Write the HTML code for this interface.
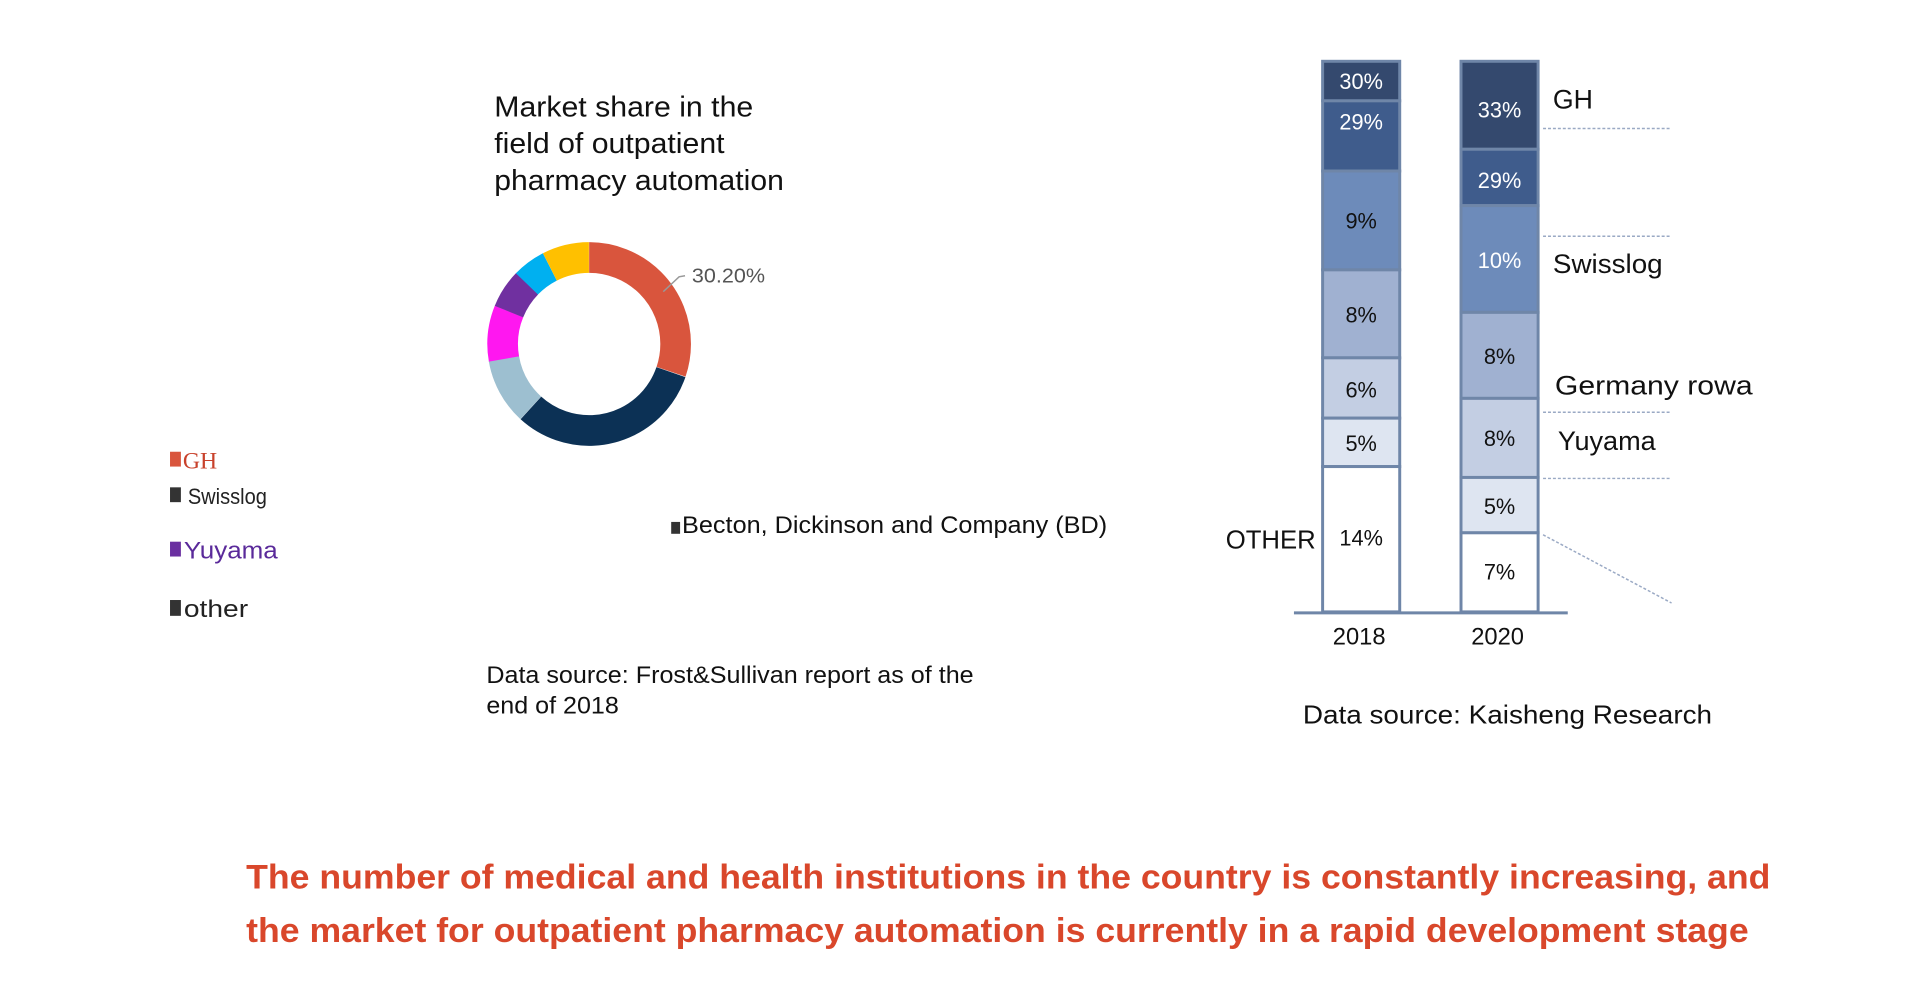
<!DOCTYPE html>
<html><head><meta charset="utf-8"><style>html,body{margin:0;padding:0;background:#fff}svg{display:block}</style></head>
<body>
<svg width="1920" height="983" viewBox="0 0 1920 983" xmlns="http://www.w3.org/2000/svg" font-family="Liberation Sans, sans-serif">
<rect width="1920" height="983" fill="#fff"/>
<g transform="scale(0.9885)">
<!-- Title -->
<g font-size="29" fill="#111">
<text x="500" y="118" textLength="262" lengthAdjust="spacingAndGlyphs">Market share in the</text>
<text x="500" y="155" textLength="233" lengthAdjust="spacingAndGlyphs">field of outpatient</text>
<text x="500" y="192" textLength="293" lengthAdjust="spacingAndGlyphs">pharmacy automation</text>
</g>
<!-- Donut -->
<g transform="translate(596,348)" fill="none" stroke-width="31">
<circle r="87.5" stroke="#d9553d" stroke-dasharray="166 1000" transform="rotate(-90)"/>
<circle r="87.5" stroke="#0c3155" stroke-dasharray="173 1000" transform="rotate(19)"/>
<circle r="87.5" stroke="#9dbfd0" stroke-dasharray="58 1000" transform="rotate(132.5)"/>
<circle r="87.5" stroke="#ff17f0" stroke-dasharray="49 1000" transform="rotate(170)"/>
<circle r="87.5" stroke="#7030a0" stroke-dasharray="34 1000" transform="rotate(202)"/>
<circle r="87.5" stroke="#00b0f0" stroke-dasharray="29 1000" transform="rotate(224)"/>
<circle r="87.5" stroke="#ffc000" stroke-dasharray="41 1000" transform="rotate(243)"/>
</g>
<polyline points="671,295 687,280 693,279" fill="none" stroke="#999" stroke-width="1.5"/>
<text x="700" y="286" font-size="21" fill="#555" textLength="74" lengthAdjust="spacingAndGlyphs">30.20%</text>
<!-- Legend -->
<rect x="172" y="457" width="11" height="15" fill="#d9553d"/>
<text x="185" y="474" font-size="24" font-family="Liberation Serif, serif" fill="#c8412b">GH</text>
<rect x="172" y="493" width="11" height="15" fill="#333"/>
<text x="190" y="510" font-size="22" fill="#222" textLength="80" lengthAdjust="spacingAndGlyphs">Swisslog</text>
<rect x="172" y="548" width="11" height="15" fill="#6a2fa0"/>
<text x="186" y="565" font-size="24" fill="#5a2a9a" textLength="95" lengthAdjust="spacingAndGlyphs">Yuyama</text>
<rect x="172" y="607" width="11" height="16" fill="#333"/>
<text x="186" y="624" font-size="24" fill="#222" textLength="65" lengthAdjust="spacingAndGlyphs">other</text>
<rect x="679" y="528" width="9" height="12" fill="#333"/>
<text x="690" y="539" font-size="24" fill="#111" textLength="430" lengthAdjust="spacingAndGlyphs">Becton, Dickinson and Company (BD)</text>
<g font-size="24" fill="#111">
<text x="492" y="691" textLength="493" lengthAdjust="spacingAndGlyphs">Data source: Frost&amp;Sullivan report as of the</text>
<text x="492" y="722" textLength="134" lengthAdjust="spacingAndGlyphs">end of 2018</text>
</g>
<!-- Bars -->
<g stroke="#6f86a8" stroke-width="3">
<rect x="1338" y="62" width="78" height="40" fill="#34496e"/>
<rect x="1338" y="102" width="78" height="71" fill="#3f5c8c"/>
<rect x="1338" y="173" width="78" height="100" fill="#6d8bba"/>
<rect x="1338" y="273" width="78" height="89" fill="#a0b1d1"/>
<rect x="1338" y="362" width="78" height="61" fill="#c3cee3"/>
<rect x="1338" y="423" width="78" height="49" fill="#dee5f1"/>
<rect x="1338" y="472" width="78" height="147" fill="#fff"/>
<rect x="1478" y="62" width="78" height="89" fill="#34496e"/>
<rect x="1478" y="151" width="78" height="57" fill="#3f5c8c"/>
<rect x="1478" y="208" width="78" height="108" fill="#6d8bba"/>
<rect x="1478" y="316" width="78" height="87" fill="#a0b1d1"/>
<rect x="1478" y="403" width="78" height="80" fill="#c3cee3"/>
<rect x="1478" y="483" width="78" height="56" fill="#dee5f1"/>
<rect x="1478" y="539" width="78" height="80" fill="#fff"/>
</g>
<line x1="1309" y1="620" x2="1586" y2="620" stroke="#6f86a8" stroke-width="3"/>
<g fill="none" stroke="#9aa9c4" stroke-width="1.5" stroke-dasharray="3 2">
<line x1="1561" y1="130" x2="1691" y2="130"/>
<line x1="1561" y1="239" x2="1691" y2="239"/>
<line x1="1561" y1="417" x2="1691" y2="417"/>
<line x1="1561" y1="484" x2="1691" y2="484"/>
<line x1="1561" y1="541" x2="1691" y2="610"/>
</g>
<g font-size="22" text-anchor="middle">
<text x="1377" y="90" fill="#fff">30%</text>
<text x="1377" y="131" fill="#fff">29%</text>
<text x="1377" y="231" fill="#111">9%</text>
<text x="1377" y="326" fill="#111">8%</text>
<text x="1377" y="402" fill="#111">6%</text>
<text x="1377" y="456" fill="#111">5%</text>
<text x="1377" y="552" fill="#111">14%</text>
<text x="1517" y="119" fill="#fff">33%</text>
<text x="1517" y="190" fill="#fff">29%</text>
<text x="1517" y="271" fill="#fff">10%</text>
<text x="1517" y="368" fill="#111">8%</text>
<text x="1517" y="451" fill="#111">8%</text>
<text x="1517" y="520" fill="#111">5%</text>
<text x="1517" y="586" fill="#111">7%</text>
</g>
<g font-size="27" fill="#111">
<text x="1571" y="110">GH</text>
<text x="1571" y="276" textLength="111" lengthAdjust="spacingAndGlyphs">Swisslog</text>
<text x="1573" y="399" textLength="200" lengthAdjust="spacingAndGlyphs">Germany rowa</text>
<text x="1576" y="455" textLength="99" lengthAdjust="spacingAndGlyphs">Yuyama</text>
<text x="1240" y="555" font-size="26">OTHER</text>
<text x="1375" y="652" text-anchor="middle" font-size="24">2018</text>
<text x="1515" y="652" text-anchor="middle" font-size="24">2020</text>
<text x="1318" y="732" font-size="26" textLength="414" lengthAdjust="spacingAndGlyphs">Data source: Kaisheng Research</text>
</g>
<!-- Bottom text -->
<g font-size="35" font-weight="bold" fill="#d9472b">
<text x="249" y="899" textLength="1542" lengthAdjust="spacingAndGlyphs">The number of medical and health institutions in the country is constantly increasing, and</text>
<text x="249" y="953" textLength="1520" lengthAdjust="spacingAndGlyphs">the market for outpatient pharmacy automation is currently in a rapid development stage</text>
</g>
</g>
</svg>
</body></html>
